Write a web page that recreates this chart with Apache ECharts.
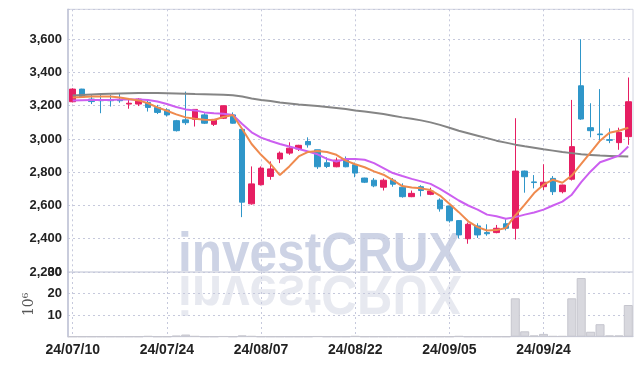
<!DOCTYPE html>
<html><head><meta charset="utf-8">
<script src="https://cdn.jsdelivr.net/npm/echarts@6/dist/echarts.min.js"></script>
<style>html,body{margin:0;padding:0;background:#fff}#c{width:642px;height:366px}</style>
</head><body><div id="c"></div>
<script>
const dates = ['24/07/10','24/07/11','24/07/12','24/07/15','24/07/16','24/07/17','24/07/18','24/07/19','24/07/22','24/07/23',
 '24/07/24','24/07/25','24/07/26','24/07/29','24/07/30','24/07/31','24/08/01','24/08/02','24/08/05','24/08/06',
 '24/08/07','24/08/08','24/08/09','24/08/12','24/08/13','24/08/14','24/08/16','24/08/19','24/08/20','24/08/21',
 '24/08/22','24/08/23','24/08/26','24/08/27','24/08/28','24/08/29','24/08/30','24/09/02','24/09/03','24/09/04',
 '24/09/05','24/09/06','24/09/09','24/09/10','24/09/11','24/09/12','24/09/13','24/09/19','24/09/20','24/09/23',
 '24/09/24','24/09/25','24/09/26','24/09/27','24/09/30','24/10/02','24/10/04','24/10/07','24/10/08','24/10/10'];
const openP = [3224,3300,3240,3235,3235,3236,3210,3210,3220,3190,
 3175,3110,3115,3118,3145,3088,3125,3145,3058,2610,
 2725,2775,2880,2915,2940,2985,2935,2857,2833,2878,
 2845,2765,2752,2710,2752,2710,2653,2713,2667,2633,
 2597,2509,2400,2477,2437,2437,2490,2463,2807,2742,
 2713,2763,2683,2758,3320,3068,3030,2996,2978,3014];
const closeP = [3300,3252,3225,3230,3230,3230,3215,3240,3190,3160,
 3145,3050,3098,3178,3095,3118,3200,3095,2620,2730,
 2825,2820,2915,2945,2962,2965,2833,2835,2873,2833,
 2795,2740,2718,2752,2728,2653,2673,2690,2687,2580,
 2508,2423,2487,2423,2430,2463,2463,2807,2773,2738,
 2740,2683,2723,2954,3120,3050,3026,2992,3040,3224];
const lowP = [3220,3250,3210,3155,3195,3218,3182,3198,3165,3150,
 3135,3045,3085,3075,3090,3078,3120,3092,2530,2605,
 2720,2755,2855,2905,2928,2948,2820,2825,2830,2830,
 2770,2735,2710,2690,2713,2647,2650,2655,2662,2563,
 2497,2403,2370,2405,2418,2433,2450,2395,2677,2703,
 2693,2663,2673,2750,3115,3010,2985,2975,2935,2965];
const highP = [3305,3302,3265,3265,3265,3270,3235,3245,3235,3205,
 3185,3115,3285,3180,3155,3120,3200,3160,3065,2835,
 2835,2865,2925,2980,2965,3010,2935,2890,2888,2895,
 2858,2767,2765,2762,2765,2733,2690,2722,2707,2643,
 2600,2512,2497,2493,2487,2483,2517,3125,2810,2783,
 2848,2777,2725,3235,3600,3215,3300,3064,3068,3370];
const volume = [0,0,0,0,0,0,0,0,0.3,0,
 0,0.5,1.0,0.3,0,0,0.2,0,0.6,0.3,
 0,0,0,0,0,0,0.2,0,0,0,
 0.3,0,0,0,0,0,0,0,0,0,
 0,0.3,0,0,0,0,0,17.8,2.5,0.6,
 1.3,0.3,0.3,17.8,27.2,2.3,5.8,0.6,0.6,14.7];
const ma5 = [3250,3252,3255,3255,3255,3250,3240,3232,3215,3190,
 3170,3148,3130,3122,3116,3114,3132,3144,3060,2970,
 2905,2850,2783,2835,2895,2922,2928,2922,2905,2870,
 2848,2830,2805,2785,2753,2717,2708,2703,2693,2660,
 2610,2560,2505,2470,2450,2452,2465,2540,2605,2675,
 2725,2755,2737,2780,2850,2920,2990,3038,3050,3068];
const ma20 = [3232,3233,3234,3234,3235,3237,3238,3238,3234,3225,
 3210,3192,3178,3172,3160,3155,3152,3145,3090,3040,
 3008,2988,2970,2955,2940,2925,2908,2880,2865,2880,
 2880,2875,2855,2825,2795,2777,2760,2745,2730,2700,
 2665,2630,2600,2575,2545,2535,2520,2530,2545,2558,
 2575,2600,2623,2665,2740,2805,2860,2880,2900,2955];
const ma120 = [3262,3265,3268,3270,3272,3274,3275,3276,3276,3276,
 3275,3274,3272,3270,3269,3268,3266,3263,3255,3244,
 3235,3228,3220,3214,3208,3203,3198,3192,3186,3180,
 3172,3165,3158,3150,3140,3130,3122,3112,3100,3085,
 3068,3050,3035,3020,3005,2990,2978,2966,2956,2947,
 2938,2930,2922,2915,2908,2904,2900,2898,2896,2894];
const priceTicks = {min:2200, max:3780, interval:200};
const volTicks = {min:0, max:30, interval:10};

const candleData = dates.map((d,i)=>[openP[i], closeP[i], lowP[i], highP[i]]);
const FONT = '"Liberation Sans", Arial, sans-serif';
const gridColor = '#c6c9dc';
const dotted = [2,3];
const wmFont = 'bold 56px "Liberation Sans", Arial, sans-serif';

const chart = echarts.init(document.getElementById('c'));
chart.setOption({
  animation:false,
  graphic:[
    {type:'text', x:178, y:284, scaleX:0.885, z:0, silent:true,
     style:{text:'investCRUX', x:0, y:0, verticalAlign:'bottom', font:wmFont, fill:'#cdd3e5'}},
    {type:'text', x:178, y:263, scaleX:0.885, scaleY:-1, z:0, silent:true,
     style:{text:'investCRUX', x:0, y:0, verticalAlign:'bottom', font:wmFont, fill:'#e7e9f0'}}
  ],
  grid:[
    {left:68, top:9.3, width:565, height:262.7, show:true, borderColor:'#d2d4e0', borderWidth:1},
    {left:68, top:272, width:565, height:64.7, show:true, borderColor:'#d2d4e0', borderWidth:1}
  ],
  xAxis:[
    {type:'category', data:dates, gridIndex:0, boundaryGap:true,
     axisLine:{show:false}, axisTick:{show:false}, axisLabel:{show:false},
     splitLine:{show:true, interval:9, alignWithLabel:true, lineStyle:{color:gridColor, type:dotted, width:1}}},
    {type:'category', data:dates, gridIndex:1, boundaryGap:true,
     axisLine:{show:true, lineStyle:{color:'#c6c9d9', width:1}}, axisTick:{show:false},
     axisLabel:{show:true, interval:9, margin:6, fontFamily:FONT, fontSize:14, fontWeight:'bold', color:'#222'},
     splitLine:{show:true, interval:9, alignWithLabel:true, lineStyle:{color:gridColor, type:dotted, width:1}}}
  ],
  yAxis:[
    {type:'value', gridIndex:0, min:priceTicks.min, max:priceTicks.max, interval:priceTicks.interval,
     axisLine:{show:true, lineStyle:{color:'#bfc3d6', width:1.5}}, axisTick:{show:false},
     axisLabel:{showMaxLabel:false, margin:6, fontFamily:FONT, fontSize:13, fontWeight:'bold', color:'#222',
       formatter:v=>v.toLocaleString('en-US')},
     splitLine:{show:true, lineStyle:{color:gridColor, type:dotted, width:1}}},
    {type:'value', gridIndex:1, min:volTicks.min, max:volTicks.max, interval:volTicks.interval,
     name:'10\u2076', nameLocation:'middle', nameRotate:90, nameGap:19,
     nameTextStyle:{fontFamily:'"DejaVu Serif", serif', fontSize:14, color:'#555'},
     axisLine:{show:true, lineStyle:{color:'#bfc3d6', width:1.5}}, axisTick:{show:false},
     axisLabel:{showMinLabel:false, margin:6, fontFamily:FONT, fontSize:13, fontWeight:'bold', color:'#222'},
     splitLine:{show:true, lineStyle:{color:gridColor, type:dotted, width:1}}}
  ],
  series:[
    {type:'candlestick', xAxisIndex:0, yAxisIndex:0, data:candleData, barWidth:6, z:3,
     itemStyle:{color:'#e61e62', color0:'#2f96c9', borderColor:'#e61e62', borderColor0:'#2f96c9', borderWidth:1}},
    {type:'line', xAxisIndex:0, yAxisIndex:0, data:ma120, showSymbol:false, z:4,
     lineStyle:{color:'#858585', width:2}},
    {type:'line', xAxisIndex:0, yAxisIndex:0, data:ma20, showSymbol:false, z:4,
     lineStyle:{color:'#cc5ff0', width:2}},
    {type:'line', xAxisIndex:0, yAxisIndex:0, data:ma5, showSymbol:false, z:4,
     lineStyle:{color:'#ef8a4e', width:2}},
    {type:'bar', xAxisIndex:1, yAxisIndex:1, data:volume, barCategoryGap:'4%', z:3,
     itemStyle:{color:'#d8d8de', borderColor:'#c6c6ce', borderWidth:1}}
  ]
});
</script></body></html>
